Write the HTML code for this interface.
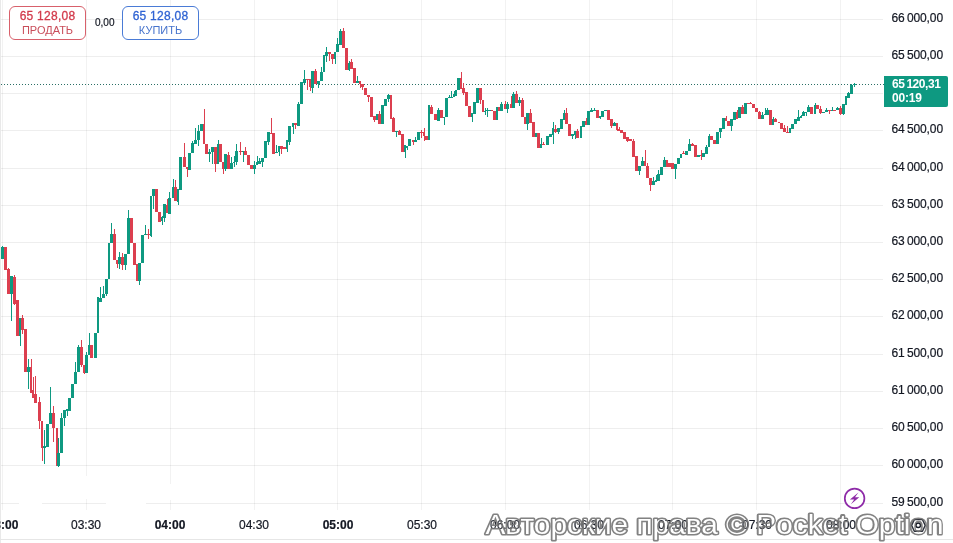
<!DOCTYPE html>
<html><head><meta charset="utf-8">
<style>
html,body{margin:0;padding:0;background:#fff;}
body{width:953px;height:543px;overflow:hidden;position:relative;font-family:"Liberation Sans",sans-serif;}
.pl,.tl,.bv,.bt,.cur,.zz{will-change:transform;}
.pl,.tl,.zz{-webkit-text-stroke:0.2px #131722;}
svg{position:absolute;left:0;top:0;}
.pl{position:absolute;left:885px;width:58px;text-align:right;font-size:12px;line-height:14px;color:#131722;letter-spacing:-0.1px;}
.tl{position:absolute;top:515px;width:60px;text-align:center;font-size:12px;line-height:20px;color:#131722;}
.tl.b{font-weight:bold;}
.btn{position:absolute;top:6px;height:32px;border:1px solid;border-radius:6px;box-sizing:content-box;text-align:center;background:#fff;}
.bv{position:absolute;width:77px;text-align:center;font-size:12px;line-height:14px;letter-spacing:0.25px;-webkit-text-stroke:0.3px currentColor;}
.bt{position:absolute;width:77px;text-align:center;font-size:11px;line-height:14px;}
.cur{position:absolute;left:884px;top:76px;width:64px;height:31px;background:#0e9981;border-radius:0 2px 2px 0;color:#fff;font-weight:bold;font-size:12px;line-height:14px;}
</style></head><body>
<svg width="953" height="543" viewBox="0 0 953 543">
<g shape-rendering="crispEdges">
<rect x="0" y="19" width="883" height="1" fill="rgba(0,0,0,0.065)"/>
<rect x="0" y="56" width="883" height="1" fill="rgba(0,0,0,0.065)"/>
<rect x="0" y="93" width="883" height="1" fill="rgba(0,0,0,0.065)"/>
<rect x="0" y="130" width="883" height="1" fill="rgba(0,0,0,0.065)"/>
<rect x="0" y="168" width="883" height="1" fill="rgba(0,0,0,0.065)"/>
<rect x="0" y="205" width="883" height="1" fill="rgba(0,0,0,0.065)"/>
<rect x="0" y="242" width="883" height="1" fill="rgba(0,0,0,0.065)"/>
<rect x="0" y="279" width="883" height="1" fill="rgba(0,0,0,0.065)"/>
<rect x="0" y="316" width="883" height="1" fill="rgba(0,0,0,0.065)"/>
<rect x="0" y="354" width="883" height="1" fill="rgba(0,0,0,0.065)"/>
<rect x="0" y="391" width="883" height="1" fill="rgba(0,0,0,0.065)"/>
<rect x="0" y="428" width="883" height="1" fill="rgba(0,0,0,0.065)"/>
<rect x="0" y="465" width="883" height="1" fill="rgba(0,0,0,0.065)"/>
<rect x="0" y="503" width="883" height="1" fill="rgba(0,0,0,0.065)"/>
<rect x="2" y="0" width="1" height="510" fill="rgba(0,0,0,0.05)"/>
<rect x="86" y="0" width="1" height="510" fill="rgba(0,0,0,0.05)"/>
<rect x="170" y="0" width="1" height="510" fill="rgba(0,0,0,0.05)"/>
<rect x="254" y="0" width="1" height="510" fill="rgba(0,0,0,0.05)"/>
<rect x="337" y="0" width="1" height="510" fill="rgba(0,0,0,0.05)"/>
<rect x="421" y="0" width="1" height="510" fill="rgba(0,0,0,0.05)"/>
<rect x="505" y="0" width="1" height="510" fill="rgba(0,0,0,0.05)"/>
<rect x="589" y="0" width="1" height="510" fill="rgba(0,0,0,0.05)"/>
<rect x="672" y="0" width="1" height="510" fill="rgba(0,0,0,0.05)"/>
<rect x="756" y="0" width="1" height="510" fill="rgba(0,0,0,0.05)"/>
<rect x="840" y="0" width="1" height="510" fill="rgba(0,0,0,0.05)"/>
<rect x="0" y="0" width="1" height="543" fill="#e9e9e9"/>
</g>
<g fill="#fff"><rect x="19" y="501" width="23" height="4"/><rect x="106" y="501" width="40" height="4"/><rect x="84" y="476" width="5" height="23"/><rect x="168" y="484" width="5" height="16"/></g>
<line x1="0" y1="539.5" x2="953" y2="539.5" stroke="#e6e6e6" stroke-width="1"/>
<line x1="1" y1="84.5" x2="884" y2="84.5" stroke="#2b6f66" stroke-width="1" stroke-dasharray="1 2" shape-rendering="crispEdges"/>
<g shape-rendering="crispEdges">
<rect x="2" y="246" width="1" height="13" fill="#0e9981"/>
<rect x="1" y="247" width="3" height="12" fill="#0e9981"/>
<rect x="5" y="247" width="1" height="23" fill="#dc3f4f"/>
<rect x="4" y="247" width="3" height="23" fill="#dc3f4f"/>
<rect x="8" y="268" width="1" height="26" fill="#dc3f4f"/>
<rect x="7" y="269" width="3" height="25" fill="#dc3f4f"/>
<rect x="11" y="276" width="1" height="45" fill="#0e9981"/>
<rect x="10" y="276" width="3" height="18" fill="#0e9981"/>
<rect x="14" y="275" width="1" height="30" fill="#dc3f4f"/>
<rect x="13" y="277" width="3" height="27" fill="#dc3f4f"/>
<rect x="17" y="300" width="1" height="36" fill="#dc3f4f"/>
<rect x="16" y="300" width="3" height="36" fill="#dc3f4f"/>
<rect x="20" y="318" width="1" height="28" fill="#0e9981"/>
<rect x="19" y="318" width="2" height="18" fill="#0e9981"/>
<rect x="22" y="315" width="1" height="19" fill="#dc3f4f"/>
<rect x="21" y="318" width="3" height="12" fill="#dc3f4f"/>
<rect x="25" y="329" width="1" height="43" fill="#dc3f4f"/>
<rect x="24" y="329" width="3" height="43" fill="#dc3f4f"/>
<rect x="28" y="359" width="1" height="30" fill="#0e9981"/>
<rect x="27" y="367" width="3" height="5" fill="#0e9981"/>
<rect x="31" y="359" width="1" height="34" fill="#dc3f4f"/>
<rect x="30" y="367" width="2" height="26" fill="#dc3f4f"/>
<rect x="33" y="377" width="1" height="21" fill="#dc3f4f"/>
<rect x="32" y="390" width="2" height="8" fill="#dc3f4f"/>
<rect x="35" y="376" width="1" height="27" fill="#dc3f4f"/>
<rect x="34" y="394" width="3" height="9" fill="#dc3f4f"/>
<rect x="39" y="397" width="1" height="32" fill="#dc3f4f"/>
<rect x="38" y="402" width="3" height="19" fill="#dc3f4f"/>
<rect x="42" y="421" width="1" height="40" fill="#dc3f4f"/>
<rect x="41" y="421" width="2" height="27" fill="#dc3f4f"/>
<rect x="44" y="430" width="1" height="34" fill="#0e9981"/>
<rect x="43" y="446" width="3" height="2" fill="#0e9981"/>
<rect x="47" y="424" width="1" height="23" fill="#0e9981"/>
<rect x="46" y="424" width="3" height="23" fill="#0e9981"/>
<rect x="50" y="387" width="1" height="37" fill="#0e9981"/>
<rect x="49" y="413" width="3" height="11" fill="#0e9981"/>
<rect x="53" y="406" width="1" height="36" fill="#dc3f4f"/>
<rect x="52" y="413" width="3" height="15" fill="#dc3f4f"/>
<rect x="57" y="428" width="1" height="38" fill="#dc3f4f"/>
<rect x="56" y="428" width="2" height="38" fill="#dc3f4f"/>
<rect x="58" y="438" width="1" height="29" fill="#0e9981"/>
<rect x="57" y="453" width="3" height="13" fill="#0e9981"/>
<rect x="61" y="413" width="1" height="40" fill="#0e9981"/>
<rect x="60" y="418" width="3" height="35" fill="#0e9981"/>
<rect x="64" y="410" width="1" height="16" fill="#0e9981"/>
<rect x="63" y="410" width="3" height="8" fill="#0e9981"/>
<rect x="67" y="409" width="1" height="7" fill="#0e9981"/>
<rect x="66" y="409" width="2" height="2" fill="#0e9981"/>
<rect x="69" y="398" width="1" height="13" fill="#0e9981"/>
<rect x="68" y="398" width="3" height="13" fill="#0e9981"/>
<rect x="72" y="384" width="1" height="14" fill="#0e9981"/>
<rect x="71" y="384" width="3" height="14" fill="#0e9981"/>
<rect x="75" y="362" width="1" height="22" fill="#0e9981"/>
<rect x="74" y="372" width="3" height="12" fill="#0e9981"/>
<rect x="78" y="345" width="1" height="27" fill="#0e9981"/>
<rect x="77" y="347" width="3" height="25" fill="#0e9981"/>
<rect x="81" y="340" width="1" height="27" fill="#dc3f4f"/>
<rect x="80" y="347" width="3" height="18" fill="#dc3f4f"/>
<rect x="84" y="365" width="1" height="9" fill="#dc3f4f"/>
<rect x="83" y="365" width="2" height="8" fill="#dc3f4f"/>
<rect x="86" y="352" width="1" height="21" fill="#0e9981"/>
<rect x="85" y="355" width="3" height="18" fill="#0e9981"/>
<rect x="89" y="333" width="1" height="22" fill="#0e9981"/>
<rect x="88" y="345" width="2" height="10" fill="#0e9981"/>
<rect x="91" y="345" width="1" height="13" fill="#dc3f4f"/>
<rect x="90" y="345" width="3" height="13" fill="#dc3f4f"/>
<rect x="95" y="333" width="1" height="25" fill="#0e9981"/>
<rect x="94" y="333" width="3" height="25" fill="#0e9981"/>
<rect x="98" y="297" width="1" height="36" fill="#0e9981"/>
<rect x="97" y="297" width="2" height="36" fill="#0e9981"/>
<rect x="100" y="287" width="1" height="15" fill="#0e9981"/>
<rect x="99" y="298" width="3" height="4" fill="#0e9981"/>
<rect x="103" y="286" width="1" height="12" fill="#0e9981"/>
<rect x="102" y="294" width="3" height="4" fill="#0e9981"/>
<rect x="106" y="279" width="1" height="17" fill="#0e9981"/>
<rect x="105" y="279" width="3" height="15" fill="#0e9981"/>
<rect x="109" y="243" width="1" height="36" fill="#0e9981"/>
<rect x="108" y="243" width="2" height="36" fill="#0e9981"/>
<rect x="111" y="223" width="1" height="20" fill="#0e9981"/>
<rect x="110" y="234" width="3" height="9" fill="#0e9981"/>
<rect x="114" y="229" width="1" height="31" fill="#dc3f4f"/>
<rect x="113" y="234" width="3" height="26" fill="#dc3f4f"/>
<rect x="117" y="260" width="1" height="8" fill="#dc3f4f"/>
<rect x="116" y="260" width="2" height="4" fill="#dc3f4f"/>
<rect x="119" y="252" width="1" height="17" fill="#0e9981"/>
<rect x="118" y="257" width="3" height="7" fill="#0e9981"/>
<rect x="122" y="253" width="1" height="17" fill="#dc3f4f"/>
<rect x="121" y="257" width="3" height="8" fill="#dc3f4f"/>
<rect x="125" y="254" width="1" height="16" fill="#0e9981"/>
<rect x="124" y="254" width="3" height="11" fill="#0e9981"/>
<rect x="128" y="210" width="1" height="44" fill="#0e9981"/>
<rect x="127" y="218" width="3" height="36" fill="#0e9981"/>
<rect x="131" y="218" width="1" height="25" fill="#dc3f4f"/>
<rect x="130" y="218" width="3" height="25" fill="#dc3f4f"/>
<rect x="134" y="243" width="1" height="22" fill="#dc3f4f"/>
<rect x="133" y="243" width="3" height="22" fill="#dc3f4f"/>
<rect x="137" y="264" width="1" height="17" fill="#dc3f4f"/>
<rect x="136" y="264" width="2" height="17" fill="#dc3f4f"/>
<rect x="139" y="263" width="1" height="22" fill="#0e9981"/>
<rect x="138" y="263" width="3" height="18" fill="#0e9981"/>
<rect x="142" y="235" width="1" height="28" fill="#0e9981"/>
<rect x="141" y="235" width="3" height="28" fill="#0e9981"/>
<rect x="145" y="225" width="1" height="10" fill="#0e9981"/>
<rect x="144" y="234" width="3" height="1" fill="#0e9981"/>
<rect x="148" y="229" width="1" height="10" fill="#dc3f4f"/>
<rect x="147" y="234" width="3" height="1" fill="#dc3f4f"/>
<rect x="151" y="196" width="1" height="41" fill="#0e9981"/>
<rect x="150" y="196" width="2" height="40" fill="#0e9981"/>
<rect x="153" y="189" width="1" height="20" fill="#0e9981"/>
<rect x="152" y="189" width="3" height="7" fill="#0e9981"/>
<rect x="156" y="189" width="1" height="23" fill="#dc3f4f"/>
<rect x="155" y="189" width="3" height="23" fill="#dc3f4f"/>
<rect x="159" y="212" width="1" height="10" fill="#dc3f4f"/>
<rect x="158" y="212" width="3" height="10" fill="#dc3f4f"/>
<rect x="162" y="216" width="1" height="9" fill="#0e9981"/>
<rect x="161" y="217" width="2" height="4" fill="#0e9981"/>
<rect x="164" y="204" width="1" height="18" fill="#0e9981"/>
<rect x="163" y="204" width="3" height="14" fill="#0e9981"/>
<rect x="167" y="199" width="1" height="14" fill="#dc3f4f"/>
<rect x="166" y="205" width="2" height="8" fill="#dc3f4f"/>
<rect x="169" y="192" width="1" height="22" fill="#0e9981"/>
<rect x="168" y="198" width="3" height="16" fill="#0e9981"/>
<rect x="173" y="179" width="1" height="19" fill="#0e9981"/>
<rect x="172" y="187" width="2" height="11" fill="#0e9981"/>
<rect x="175" y="180" width="1" height="21" fill="#dc3f4f"/>
<rect x="174" y="187" width="3" height="14" fill="#dc3f4f"/>
<rect x="178" y="189" width="1" height="16" fill="#0e9981"/>
<rect x="177" y="189" width="2" height="13" fill="#0e9981"/>
<rect x="180" y="157" width="1" height="33" fill="#0e9981"/>
<rect x="179" y="157" width="3" height="33" fill="#0e9981"/>
<rect x="184" y="143" width="1" height="24" fill="#dc3f4f"/>
<rect x="183" y="157" width="3" height="10" fill="#dc3f4f"/>
<rect x="187" y="167" width="1" height="10" fill="#dc3f4f"/>
<rect x="186" y="167" width="2" height="2" fill="#dc3f4f"/>
<rect x="189" y="153" width="1" height="17" fill="#0e9981"/>
<rect x="188" y="153" width="3" height="17" fill="#0e9981"/>
<rect x="192" y="141" width="1" height="12" fill="#0e9981"/>
<rect x="191" y="143" width="3" height="10" fill="#0e9981"/>
<rect x="195" y="128" width="1" height="16" fill="#0e9981"/>
<rect x="194" y="140" width="3" height="4" fill="#0e9981"/>
<rect x="198" y="125" width="1" height="21" fill="#0e9981"/>
<rect x="197" y="131" width="3" height="9" fill="#0e9981"/>
<rect x="201" y="124" width="1" height="7" fill="#0e9981"/>
<rect x="200" y="124" width="3" height="7" fill="#0e9981"/>
<rect x="204" y="109" width="1" height="35" fill="#dc3f4f"/>
<rect x="203" y="124" width="2" height="20" fill="#dc3f4f"/>
<rect x="206" y="144" width="1" height="10" fill="#dc3f4f"/>
<rect x="205" y="144" width="3" height="10" fill="#dc3f4f"/>
<rect x="209" y="149" width="1" height="13" fill="#0e9981"/>
<rect x="208" y="152" width="3" height="2" fill="#0e9981"/>
<rect x="212" y="147" width="1" height="17" fill="#0e9981"/>
<rect x="211" y="147" width="3" height="5" fill="#0e9981"/>
<rect x="215" y="147" width="1" height="25" fill="#dc3f4f"/>
<rect x="214" y="147" width="3" height="17" fill="#dc3f4f"/>
<rect x="218" y="140" width="1" height="24" fill="#0e9981"/>
<rect x="217" y="144" width="2" height="20" fill="#0e9981"/>
<rect x="220" y="144" width="1" height="18" fill="#dc3f4f"/>
<rect x="219" y="144" width="3" height="18" fill="#dc3f4f"/>
<rect x="223" y="162" width="1" height="12" fill="#dc3f4f"/>
<rect x="222" y="162" width="2" height="7" fill="#dc3f4f"/>
<rect x="225" y="154" width="1" height="17" fill="#0e9981"/>
<rect x="224" y="154" width="3" height="15" fill="#0e9981"/>
<rect x="228" y="152" width="1" height="17" fill="#dc3f4f"/>
<rect x="227" y="155" width="3" height="14" fill="#dc3f4f"/>
<rect x="231" y="157" width="1" height="12" fill="#0e9981"/>
<rect x="230" y="163" width="3" height="6" fill="#0e9981"/>
<rect x="234" y="156" width="1" height="11" fill="#0e9981"/>
<rect x="233" y="162" width="2" height="1" fill="#0e9981"/>
<rect x="236" y="144" width="1" height="21" fill="#0e9981"/>
<rect x="235" y="151" width="3" height="11" fill="#0e9981"/>
<rect x="240" y="142" width="1" height="13" fill="#dc3f4f"/>
<rect x="239" y="151" width="3" height="1" fill="#dc3f4f"/>
<rect x="243" y="151" width="1" height="11" fill="#0e9981"/>
<rect x="242" y="151" width="2" height="1" fill="#0e9981"/>
<rect x="245" y="147" width="1" height="8" fill="#dc3f4f"/>
<rect x="244" y="151" width="3" height="4" fill="#dc3f4f"/>
<rect x="248" y="155" width="1" height="10" fill="#dc3f4f"/>
<rect x="247" y="155" width="3" height="10" fill="#dc3f4f"/>
<rect x="251" y="165" width="1" height="4" fill="#dc3f4f"/>
<rect x="250" y="165" width="3" height="4" fill="#dc3f4f"/>
<rect x="254" y="161" width="1" height="13" fill="#0e9981"/>
<rect x="253" y="165" width="3" height="4" fill="#0e9981"/>
<rect x="257" y="156" width="1" height="9" fill="#0e9981"/>
<rect x="256" y="162" width="2" height="3" fill="#0e9981"/>
<rect x="259" y="158" width="1" height="6" fill="#0e9981"/>
<rect x="258" y="161" width="3" height="3" fill="#0e9981"/>
<rect x="262" y="158" width="1" height="9" fill="#0e9981"/>
<rect x="261" y="158" width="3" height="4" fill="#0e9981"/>
<rect x="265" y="141" width="1" height="17" fill="#0e9981"/>
<rect x="264" y="141" width="3" height="17" fill="#0e9981"/>
<rect x="268" y="132" width="1" height="13" fill="#0e9981"/>
<rect x="267" y="132" width="3" height="10" fill="#0e9981"/>
<rect x="271" y="118" width="1" height="15" fill="#dc3f4f"/>
<rect x="270" y="133" width="2" height="1" fill="#dc3f4f"/>
<rect x="273" y="133" width="1" height="21" fill="#dc3f4f"/>
<rect x="272" y="133" width="3" height="21" fill="#dc3f4f"/>
<rect x="276" y="145" width="1" height="8" fill="#0e9981"/>
<rect x="275" y="152" width="3" height="1" fill="#0e9981"/>
<rect x="279" y="146" width="1" height="10" fill="#0e9981"/>
<rect x="278" y="146" width="2" height="6" fill="#0e9981"/>
<rect x="281" y="146" width="1" height="8" fill="#dc3f4f"/>
<rect x="280" y="146" width="3" height="3" fill="#dc3f4f"/>
<rect x="284" y="147" width="1" height="2" fill="#dc3f4f"/>
<rect x="283" y="147" width="3" height="2" fill="#dc3f4f"/>
<rect x="287" y="140" width="1" height="12" fill="#0e9981"/>
<rect x="286" y="140" width="2" height="9" fill="#0e9981"/>
<rect x="289" y="126" width="1" height="19" fill="#0e9981"/>
<rect x="288" y="126" width="3" height="16" fill="#0e9981"/>
<rect x="293" y="123" width="1" height="11" fill="#0e9981"/>
<rect x="292" y="123" width="2" height="4" fill="#0e9981"/>
<rect x="295" y="123" width="1" height="6" fill="#dc3f4f"/>
<rect x="294" y="123" width="3" height="2" fill="#dc3f4f"/>
<rect x="298" y="102" width="1" height="24" fill="#0e9981"/>
<rect x="297" y="104" width="3" height="22" fill="#0e9981"/>
<rect x="301" y="82" width="1" height="22" fill="#0e9981"/>
<rect x="300" y="82" width="3" height="22" fill="#0e9981"/>
<rect x="304" y="70" width="1" height="14" fill="#0e9981"/>
<rect x="303" y="79" width="3" height="4" fill="#0e9981"/>
<rect x="307" y="79" width="1" height="11" fill="#dc3f4f"/>
<rect x="306" y="79" width="3" height="1" fill="#dc3f4f"/>
<rect x="310" y="79" width="1" height="12" fill="#dc3f4f"/>
<rect x="309" y="79" width="2" height="8" fill="#dc3f4f"/>
<rect x="312" y="71" width="1" height="22" fill="#0e9981"/>
<rect x="311" y="71" width="3" height="17" fill="#0e9981"/>
<rect x="315" y="69" width="1" height="15" fill="#dc3f4f"/>
<rect x="314" y="71" width="3" height="13" fill="#dc3f4f"/>
<rect x="318" y="81" width="1" height="7" fill="#0e9981"/>
<rect x="317" y="81" width="3" height="3" fill="#0e9981"/>
<rect x="321" y="67" width="1" height="14" fill="#0e9981"/>
<rect x="320" y="72" width="3" height="9" fill="#0e9981"/>
<rect x="324" y="55" width="1" height="17" fill="#0e9981"/>
<rect x="323" y="55" width="2" height="17" fill="#0e9981"/>
<rect x="326" y="47" width="1" height="15" fill="#0e9981"/>
<rect x="325" y="52" width="3" height="4" fill="#0e9981"/>
<rect x="329" y="52" width="1" height="9" fill="#dc3f4f"/>
<rect x="328" y="52" width="3" height="2" fill="#dc3f4f"/>
<rect x="332" y="54" width="1" height="10" fill="#dc3f4f"/>
<rect x="331" y="54" width="3" height="5" fill="#dc3f4f"/>
<rect x="335" y="52" width="1" height="12" fill="#0e9981"/>
<rect x="334" y="52" width="2" height="7" fill="#0e9981"/>
<rect x="337" y="38" width="1" height="14" fill="#0e9981"/>
<rect x="336" y="44" width="3" height="8" fill="#0e9981"/>
<rect x="340" y="29" width="1" height="16" fill="#0e9981"/>
<rect x="339" y="31" width="3" height="14" fill="#0e9981"/>
<rect x="343" y="28" width="1" height="20" fill="#dc3f4f"/>
<rect x="342" y="31" width="3" height="17" fill="#dc3f4f"/>
<rect x="346" y="48" width="1" height="22" fill="#dc3f4f"/>
<rect x="345" y="48" width="3" height="22" fill="#dc3f4f"/>
<rect x="349" y="61" width="1" height="10" fill="#0e9981"/>
<rect x="348" y="63" width="2" height="7" fill="#0e9981"/>
<rect x="351" y="59" width="1" height="10" fill="#dc3f4f"/>
<rect x="350" y="62" width="3" height="7" fill="#dc3f4f"/>
<rect x="354" y="68" width="1" height="15" fill="#dc3f4f"/>
<rect x="353" y="68" width="3" height="15" fill="#dc3f4f"/>
<rect x="357" y="76" width="1" height="7" fill="#0e9981"/>
<rect x="356" y="81" width="3" height="2" fill="#0e9981"/>
<rect x="360" y="81" width="1" height="7" fill="#dc3f4f"/>
<rect x="359" y="81" width="2" height="3" fill="#dc3f4f"/>
<rect x="362" y="84" width="1" height="6" fill="#dc3f4f"/>
<rect x="361" y="84" width="3" height="3" fill="#dc3f4f"/>
<rect x="365" y="88" width="1" height="7" fill="#dc3f4f"/>
<rect x="364" y="88" width="3" height="7" fill="#dc3f4f"/>
<rect x="368" y="95" width="1" height="7" fill="#dc3f4f"/>
<rect x="367" y="95" width="3" height="2" fill="#dc3f4f"/>
<rect x="371" y="97" width="1" height="20" fill="#dc3f4f"/>
<rect x="370" y="97" width="3" height="20" fill="#dc3f4f"/>
<rect x="374" y="116" width="1" height="6" fill="#dc3f4f"/>
<rect x="373" y="116" width="3" height="4" fill="#dc3f4f"/>
<rect x="377" y="114" width="1" height="6" fill="#0e9981"/>
<rect x="376" y="114" width="2" height="6" fill="#0e9981"/>
<rect x="379" y="111" width="1" height="13" fill="#dc3f4f"/>
<rect x="378" y="114" width="3" height="10" fill="#dc3f4f"/>
<rect x="382" y="105" width="1" height="19" fill="#0e9981"/>
<rect x="381" y="105" width="3" height="19" fill="#0e9981"/>
<rect x="385" y="99" width="1" height="7" fill="#0e9981"/>
<rect x="384" y="99" width="3" height="7" fill="#0e9981"/>
<rect x="388" y="94" width="1" height="8" fill="#0e9981"/>
<rect x="387" y="95" width="3" height="4" fill="#0e9981"/>
<rect x="391" y="95" width="1" height="24" fill="#dc3f4f"/>
<rect x="390" y="95" width="2" height="24" fill="#dc3f4f"/>
<rect x="393" y="117" width="1" height="15" fill="#dc3f4f"/>
<rect x="392" y="118" width="3" height="14" fill="#dc3f4f"/>
<rect x="396" y="131" width="1" height="6" fill="#0e9981"/>
<rect x="395" y="131" width="3" height="1" fill="#0e9981"/>
<rect x="399" y="130" width="1" height="5" fill="#dc3f4f"/>
<rect x="398" y="131" width="3" height="4" fill="#dc3f4f"/>
<rect x="402" y="134" width="1" height="18" fill="#dc3f4f"/>
<rect x="401" y="134" width="3" height="18" fill="#dc3f4f"/>
<rect x="405" y="145" width="1" height="13" fill="#0e9981"/>
<rect x="404" y="145" width="2" height="7" fill="#0e9981"/>
<rect x="407" y="146" width="1" height="4" fill="#0e9981"/>
<rect x="406" y="146" width="2" height="2" fill="#0e9981"/>
<rect x="409" y="139" width="1" height="7" fill="#0e9981"/>
<rect x="408" y="139" width="3" height="7" fill="#0e9981"/>
<rect x="413" y="140" width="1" height="5" fill="#dc3f4f"/>
<rect x="412" y="140" width="2" height="2" fill="#dc3f4f"/>
<rect x="415" y="137" width="1" height="5" fill="#0e9981"/>
<rect x="414" y="140" width="3" height="2" fill="#0e9981"/>
<rect x="418" y="132" width="1" height="8" fill="#0e9981"/>
<rect x="417" y="132" width="3" height="8" fill="#0e9981"/>
<rect x="421" y="130" width="1" height="8" fill="#dc3f4f"/>
<rect x="420" y="132" width="3" height="1" fill="#dc3f4f"/>
<rect x="424" y="128" width="1" height="13" fill="#dc3f4f"/>
<rect x="423" y="132" width="2" height="4" fill="#dc3f4f"/>
<rect x="426" y="136" width="1" height="4" fill="#dc3f4f"/>
<rect x="425" y="136" width="3" height="4" fill="#dc3f4f"/>
<rect x="429" y="105" width="1" height="35" fill="#0e9981"/>
<rect x="428" y="105" width="2" height="35" fill="#0e9981"/>
<rect x="431" y="105" width="1" height="9" fill="#dc3f4f"/>
<rect x="430" y="107" width="3" height="7" fill="#dc3f4f"/>
<rect x="435" y="114" width="1" height="6" fill="#dc3f4f"/>
<rect x="434" y="114" width="3" height="6" fill="#dc3f4f"/>
<rect x="438" y="108" width="1" height="13" fill="#0e9981"/>
<rect x="437" y="110" width="3" height="11" fill="#0e9981"/>
<rect x="441" y="110" width="1" height="8" fill="#dc3f4f"/>
<rect x="440" y="110" width="3" height="8" fill="#dc3f4f"/>
<rect x="444" y="117" width="1" height="8" fill="#0e9981"/>
<rect x="443" y="117" width="2" height="1" fill="#0e9981"/>
<rect x="446" y="98" width="1" height="19" fill="#0e9981"/>
<rect x="445" y="98" width="3" height="19" fill="#0e9981"/>
<rect x="449" y="95" width="1" height="3" fill="#0e9981"/>
<rect x="448" y="97" width="2" height="1" fill="#0e9981"/>
<rect x="451" y="91" width="1" height="7" fill="#0e9981"/>
<rect x="450" y="97" width="3" height="1" fill="#0e9981"/>
<rect x="454" y="91" width="1" height="6" fill="#0e9981"/>
<rect x="453" y="94" width="2" height="3" fill="#0e9981"/>
<rect x="456" y="90" width="1" height="6" fill="#0e9981"/>
<rect x="455" y="90" width="2" height="6" fill="#0e9981"/>
<rect x="458" y="78" width="1" height="12" fill="#0e9981"/>
<rect x="457" y="78" width="3" height="12" fill="#0e9981"/>
<rect x="461" y="72" width="1" height="17" fill="#dc3f4f"/>
<rect x="460" y="78" width="2" height="11" fill="#dc3f4f"/>
<rect x="463" y="83" width="1" height="12" fill="#dc3f4f"/>
<rect x="462" y="88" width="3" height="5" fill="#dc3f4f"/>
<rect x="466" y="92" width="1" height="14" fill="#dc3f4f"/>
<rect x="465" y="92" width="3" height="14" fill="#dc3f4f"/>
<rect x="469" y="106" width="1" height="11" fill="#dc3f4f"/>
<rect x="468" y="106" width="3" height="11" fill="#dc3f4f"/>
<rect x="472" y="113" width="1" height="9" fill="#0e9981"/>
<rect x="471" y="113" width="2" height="4" fill="#0e9981"/>
<rect x="474" y="102" width="1" height="12" fill="#0e9981"/>
<rect x="473" y="102" width="3" height="12" fill="#0e9981"/>
<rect x="477" y="88" width="1" height="15" fill="#0e9981"/>
<rect x="476" y="88" width="3" height="15" fill="#0e9981"/>
<rect x="480" y="88" width="1" height="16" fill="#dc3f4f"/>
<rect x="479" y="88" width="3" height="12" fill="#dc3f4f"/>
<rect x="483" y="100" width="1" height="12" fill="#dc3f4f"/>
<rect x="482" y="100" width="2" height="12" fill="#dc3f4f"/>
<rect x="485" y="108" width="1" height="7" fill="#0e9981"/>
<rect x="484" y="111" width="2" height="1" fill="#0e9981"/>
<rect x="487" y="108" width="1" height="9" fill="#0e9981"/>
<rect x="486" y="110" width="3" height="1" fill="#0e9981"/>
<rect x="490" y="110" width="1" height="1" fill="#0e9981"/>
<rect x="489" y="110" width="2" height="1" fill="#0e9981"/>
<rect x="492" y="110" width="1" height="1" fill="#dc3f4f"/>
<rect x="491" y="110" width="2" height="1" fill="#dc3f4f"/>
<rect x="494" y="111" width="1" height="9" fill="#dc3f4f"/>
<rect x="493" y="111" width="3" height="9" fill="#dc3f4f"/>
<rect x="497" y="107" width="1" height="13" fill="#0e9981"/>
<rect x="496" y="107" width="2" height="13" fill="#0e9981"/>
<rect x="499" y="107" width="1" height="4" fill="#dc3f4f"/>
<rect x="498" y="107" width="2" height="4" fill="#dc3f4f"/>
<rect x="501" y="102" width="1" height="9" fill="#0e9981"/>
<rect x="500" y="104" width="3" height="7" fill="#0e9981"/>
<rect x="505" y="101" width="1" height="8" fill="#dc3f4f"/>
<rect x="504" y="104" width="2" height="5" fill="#dc3f4f"/>
<rect x="507" y="102" width="1" height="11" fill="#0e9981"/>
<rect x="506" y="104" width="3" height="5" fill="#0e9981"/>
<rect x="511" y="96" width="1" height="12" fill="#dc3f4f"/>
<rect x="510" y="104" width="2" height="4" fill="#dc3f4f"/>
<rect x="513" y="92" width="1" height="16" fill="#0e9981"/>
<rect x="512" y="94" width="3" height="14" fill="#0e9981"/>
<rect x="516" y="91" width="1" height="12" fill="#dc3f4f"/>
<rect x="515" y="94" width="3" height="9" fill="#dc3f4f"/>
<rect x="519" y="97" width="1" height="9" fill="#0e9981"/>
<rect x="518" y="100" width="3" height="3" fill="#0e9981"/>
<rect x="522" y="98" width="1" height="19" fill="#dc3f4f"/>
<rect x="521" y="100" width="3" height="17" fill="#dc3f4f"/>
<rect x="525" y="117" width="1" height="7" fill="#dc3f4f"/>
<rect x="524" y="117" width="2" height="7" fill="#dc3f4f"/>
<rect x="527" y="113" width="1" height="17" fill="#0e9981"/>
<rect x="526" y="113" width="3" height="11" fill="#0e9981"/>
<rect x="530" y="109" width="1" height="14" fill="#dc3f4f"/>
<rect x="529" y="113" width="3" height="10" fill="#dc3f4f"/>
<rect x="533" y="122" width="1" height="15" fill="#dc3f4f"/>
<rect x="532" y="122" width="3" height="15" fill="#dc3f4f"/>
<rect x="536" y="133" width="1" height="4" fill="#0e9981"/>
<rect x="535" y="133" width="2" height="4" fill="#0e9981"/>
<rect x="538" y="133" width="1" height="15" fill="#dc3f4f"/>
<rect x="537" y="133" width="3" height="15" fill="#dc3f4f"/>
<rect x="541" y="138" width="1" height="10" fill="#0e9981"/>
<rect x="540" y="144" width="2" height="4" fill="#0e9981"/>
<rect x="543" y="142" width="1" height="3" fill="#dc3f4f"/>
<rect x="542" y="144" width="3" height="1" fill="#dc3f4f"/>
<rect x="547" y="136" width="1" height="9" fill="#0e9981"/>
<rect x="546" y="136" width="3" height="9" fill="#0e9981"/>
<rect x="550" y="134" width="1" height="3" fill="#0e9981"/>
<rect x="549" y="134" width="3" height="3" fill="#0e9981"/>
<rect x="553" y="122" width="1" height="22" fill="#0e9981"/>
<rect x="552" y="128" width="2" height="7" fill="#0e9981"/>
<rect x="555" y="125" width="1" height="8" fill="#dc3f4f"/>
<rect x="554" y="129" width="3" height="3" fill="#dc3f4f"/>
<rect x="558" y="128" width="1" height="6" fill="#0e9981"/>
<rect x="557" y="128" width="3" height="4" fill="#0e9981"/>
<rect x="561" y="119" width="1" height="10" fill="#0e9981"/>
<rect x="560" y="119" width="3" height="10" fill="#0e9981"/>
<rect x="564" y="110" width="1" height="10" fill="#0e9981"/>
<rect x="563" y="113" width="2" height="7" fill="#0e9981"/>
<rect x="566" y="108" width="1" height="16" fill="#dc3f4f"/>
<rect x="565" y="113" width="3" height="11" fill="#dc3f4f"/>
<rect x="569" y="124" width="1" height="12" fill="#dc3f4f"/>
<rect x="568" y="124" width="3" height="12" fill="#dc3f4f"/>
<rect x="572" y="134" width="1" height="5" fill="#0e9981"/>
<rect x="571" y="134" width="3" height="2" fill="#0e9981"/>
<rect x="575" y="131" width="1" height="8" fill="#0e9981"/>
<rect x="574" y="131" width="2" height="4" fill="#0e9981"/>
<rect x="577" y="129" width="1" height="9" fill="#dc3f4f"/>
<rect x="576" y="131" width="3" height="7" fill="#dc3f4f"/>
<rect x="581" y="126" width="1" height="12" fill="#0e9981"/>
<rect x="580" y="126" width="2" height="12" fill="#0e9981"/>
<rect x="583" y="121" width="1" height="6" fill="#0e9981"/>
<rect x="582" y="121" width="3" height="6" fill="#0e9981"/>
<rect x="586" y="118" width="1" height="7" fill="#dc3f4f"/>
<rect x="585" y="121" width="2" height="4" fill="#dc3f4f"/>
<rect x="588" y="111" width="1" height="14" fill="#0e9981"/>
<rect x="587" y="111" width="3" height="14" fill="#0e9981"/>
<rect x="591" y="108" width="1" height="4" fill="#0e9981"/>
<rect x="590" y="110" width="3" height="2" fill="#0e9981"/>
<rect x="594" y="108" width="1" height="3" fill="#0e9981"/>
<rect x="593" y="110" width="3" height="1" fill="#0e9981"/>
<rect x="597" y="110" width="1" height="8" fill="#dc3f4f"/>
<rect x="596" y="110" width="3" height="8" fill="#dc3f4f"/>
<rect x="600" y="116" width="1" height="3" fill="#0e9981"/>
<rect x="599" y="116" width="2" height="2" fill="#0e9981"/>
<rect x="602" y="111" width="1" height="6" fill="#0e9981"/>
<rect x="601" y="111" width="3" height="6" fill="#0e9981"/>
<rect x="605" y="110" width="1" height="1" fill="#0e9981"/>
<rect x="604" y="110" width="3" height="1" fill="#0e9981"/>
<rect x="608" y="110" width="1" height="10" fill="#dc3f4f"/>
<rect x="607" y="110" width="3" height="10" fill="#dc3f4f"/>
<rect x="611" y="119" width="1" height="9" fill="#dc3f4f"/>
<rect x="610" y="119" width="3" height="7" fill="#dc3f4f"/>
<rect x="614" y="122" width="1" height="4" fill="#0e9981"/>
<rect x="613" y="123" width="3" height="3" fill="#0e9981"/>
<rect x="617" y="123" width="1" height="8" fill="#dc3f4f"/>
<rect x="616" y="123" width="2" height="7" fill="#dc3f4f"/>
<rect x="619" y="127" width="1" height="4" fill="#dc3f4f"/>
<rect x="618" y="129" width="2" height="2" fill="#dc3f4f"/>
<rect x="621" y="130" width="1" height="3" fill="#dc3f4f"/>
<rect x="620" y="130" width="3" height="3" fill="#dc3f4f"/>
<rect x="624" y="132" width="1" height="7" fill="#dc3f4f"/>
<rect x="623" y="132" width="3" height="7" fill="#dc3f4f"/>
<rect x="627" y="137" width="1" height="5" fill="#dc3f4f"/>
<rect x="626" y="137" width="3" height="4" fill="#dc3f4f"/>
<rect x="630" y="139" width="1" height="2" fill="#dc3f4f"/>
<rect x="629" y="139" width="3" height="2" fill="#dc3f4f"/>
<rect x="633" y="139" width="1" height="18" fill="#dc3f4f"/>
<rect x="632" y="141" width="3" height="16" fill="#dc3f4f"/>
<rect x="636" y="156" width="1" height="15" fill="#dc3f4f"/>
<rect x="635" y="156" width="3" height="15" fill="#dc3f4f"/>
<rect x="639" y="166" width="1" height="9" fill="#0e9981"/>
<rect x="638" y="166" width="3" height="5" fill="#0e9981"/>
<rect x="642" y="157" width="1" height="9" fill="#0e9981"/>
<rect x="641" y="161" width="3" height="5" fill="#0e9981"/>
<rect x="645" y="150" width="1" height="16" fill="#dc3f4f"/>
<rect x="644" y="161" width="2" height="5" fill="#dc3f4f"/>
<rect x="647" y="163" width="1" height="15" fill="#dc3f4f"/>
<rect x="646" y="166" width="3" height="12" fill="#dc3f4f"/>
<rect x="650" y="178" width="1" height="13" fill="#dc3f4f"/>
<rect x="649" y="178" width="3" height="7" fill="#dc3f4f"/>
<rect x="653" y="177" width="1" height="8" fill="#0e9981"/>
<rect x="652" y="181" width="3" height="4" fill="#0e9981"/>
<rect x="656" y="175" width="1" height="7" fill="#0e9981"/>
<rect x="655" y="180" width="2" height="2" fill="#0e9981"/>
<rect x="658" y="170" width="1" height="11" fill="#0e9981"/>
<rect x="657" y="174" width="3" height="7" fill="#0e9981"/>
<rect x="661" y="167" width="1" height="8" fill="#0e9981"/>
<rect x="660" y="167" width="3" height="8" fill="#0e9981"/>
<rect x="664" y="157" width="1" height="10" fill="#0e9981"/>
<rect x="663" y="160" width="3" height="7" fill="#0e9981"/>
<rect x="667" y="160" width="1" height="7" fill="#dc3f4f"/>
<rect x="666" y="160" width="2" height="7" fill="#dc3f4f"/>
<rect x="669" y="163" width="1" height="4" fill="#dc3f4f"/>
<rect x="668" y="163" width="3" height="4" fill="#dc3f4f"/>
<rect x="672" y="163" width="1" height="6" fill="#dc3f4f"/>
<rect x="671" y="163" width="3" height="6" fill="#dc3f4f"/>
<rect x="675" y="164" width="1" height="15" fill="#0e9981"/>
<rect x="674" y="164" width="3" height="5" fill="#0e9981"/>
<rect x="678" y="158" width="1" height="6" fill="#0e9981"/>
<rect x="677" y="158" width="3" height="6" fill="#0e9981"/>
<rect x="681" y="154" width="1" height="4" fill="#0e9981"/>
<rect x="680" y="154" width="2" height="4" fill="#0e9981"/>
<rect x="683" y="151" width="1" height="3" fill="#dc3f4f"/>
<rect x="682" y="153" width="3" height="1" fill="#dc3f4f"/>
<rect x="686" y="151" width="1" height="4" fill="#0e9981"/>
<rect x="685" y="151" width="3" height="4" fill="#0e9981"/>
<rect x="689" y="139" width="1" height="12" fill="#0e9981"/>
<rect x="688" y="144" width="3" height="7" fill="#0e9981"/>
<rect x="692" y="143" width="1" height="3" fill="#dc3f4f"/>
<rect x="691" y="144" width="3" height="2" fill="#dc3f4f"/>
<rect x="695" y="145" width="1" height="12" fill="#dc3f4f"/>
<rect x="694" y="145" width="3" height="12" fill="#dc3f4f"/>
<rect x="698" y="155" width="1" height="2" fill="#0e9981"/>
<rect x="697" y="155" width="3" height="2" fill="#0e9981"/>
<rect x="701" y="150" width="1" height="10" fill="#dc3f4f"/>
<rect x="700" y="155" width="2" height="1" fill="#dc3f4f"/>
<rect x="703" y="153" width="1" height="4" fill="#0e9981"/>
<rect x="702" y="153" width="3" height="4" fill="#0e9981"/>
<rect x="706" y="145" width="1" height="9" fill="#0e9981"/>
<rect x="705" y="147" width="3" height="7" fill="#0e9981"/>
<rect x="709" y="134" width="1" height="13" fill="#0e9981"/>
<rect x="708" y="136" width="2" height="11" fill="#0e9981"/>
<rect x="711" y="136" width="1" height="4" fill="#dc3f4f"/>
<rect x="710" y="136" width="3" height="4" fill="#dc3f4f"/>
<rect x="714" y="140" width="1" height="4" fill="#dc3f4f"/>
<rect x="713" y="140" width="3" height="4" fill="#dc3f4f"/>
<rect x="717" y="132" width="1" height="12" fill="#0e9981"/>
<rect x="716" y="132" width="3" height="12" fill="#0e9981"/>
<rect x="720" y="128" width="1" height="10" fill="#0e9981"/>
<rect x="719" y="128" width="3" height="4" fill="#0e9981"/>
<rect x="723" y="118" width="1" height="11" fill="#0e9981"/>
<rect x="722" y="118" width="3" height="11" fill="#0e9981"/>
<rect x="726" y="116" width="1" height="5" fill="#dc3f4f"/>
<rect x="725" y="118" width="2" height="3" fill="#dc3f4f"/>
<rect x="728" y="121" width="1" height="5" fill="#dc3f4f"/>
<rect x="727" y="121" width="3" height="5" fill="#dc3f4f"/>
<rect x="731" y="119" width="1" height="12" fill="#0e9981"/>
<rect x="730" y="119" width="3" height="7" fill="#0e9981"/>
<rect x="734" y="112" width="1" height="8" fill="#0e9981"/>
<rect x="733" y="112" width="3" height="8" fill="#0e9981"/>
<rect x="737" y="110" width="1" height="9" fill="#dc3f4f"/>
<rect x="736" y="112" width="2" height="7" fill="#dc3f4f"/>
<rect x="739" y="107" width="1" height="11" fill="#0e9981"/>
<rect x="738" y="107" width="3" height="11" fill="#0e9981"/>
<rect x="742" y="105" width="1" height="9" fill="#dc3f4f"/>
<rect x="741" y="107" width="3" height="7" fill="#dc3f4f"/>
<rect x="745" y="103" width="1" height="11" fill="#0e9981"/>
<rect x="744" y="103" width="3" height="11" fill="#0e9981"/>
<rect x="748" y="103" width="1" height="1" fill="#dc3f4f"/>
<rect x="747" y="103" width="2" height="1" fill="#dc3f4f"/>
<rect x="750" y="102" width="1" height="2" fill="#dc3f4f"/>
<rect x="749" y="103" width="3" height="1" fill="#dc3f4f"/>
<rect x="753" y="104" width="1" height="4" fill="#dc3f4f"/>
<rect x="752" y="104" width="3" height="4" fill="#dc3f4f"/>
<rect x="756" y="108" width="1" height="4" fill="#dc3f4f"/>
<rect x="755" y="108" width="3" height="4" fill="#dc3f4f"/>
<rect x="759" y="111" width="1" height="8" fill="#dc3f4f"/>
<rect x="758" y="112" width="3" height="7" fill="#dc3f4f"/>
<rect x="762" y="112" width="1" height="7" fill="#0e9981"/>
<rect x="761" y="115" width="3" height="4" fill="#0e9981"/>
<rect x="765" y="108" width="1" height="7" fill="#0e9981"/>
<rect x="764" y="114" width="2" height="1" fill="#0e9981"/>
<rect x="767" y="108" width="1" height="7" fill="#0e9981"/>
<rect x="766" y="110" width="3" height="5" fill="#0e9981"/>
<rect x="770" y="110" width="1" height="15" fill="#dc3f4f"/>
<rect x="769" y="110" width="3" height="15" fill="#dc3f4f"/>
<rect x="773" y="117" width="1" height="8" fill="#0e9981"/>
<rect x="772" y="119" width="2" height="6" fill="#0e9981"/>
<rect x="775" y="118" width="1" height="4" fill="#dc3f4f"/>
<rect x="774" y="119" width="3" height="3" fill="#dc3f4f"/>
<rect x="779" y="122" width="1" height="1" fill="#dc3f4f"/>
<rect x="778" y="122" width="2" height="1" fill="#dc3f4f"/>
<rect x="781" y="123" width="1" height="6" fill="#dc3f4f"/>
<rect x="780" y="123" width="3" height="6" fill="#dc3f4f"/>
<rect x="784" y="125" width="1" height="7" fill="#dc3f4f"/>
<rect x="783" y="128" width="3" height="4" fill="#dc3f4f"/>
<rect x="787" y="126" width="1" height="7" fill="#dc3f4f"/>
<rect x="786" y="132" width="3" height="1" fill="#dc3f4f"/>
<rect x="790" y="128" width="1" height="5" fill="#0e9981"/>
<rect x="789" y="128" width="2" height="5" fill="#0e9981"/>
<rect x="792" y="124" width="1" height="5" fill="#0e9981"/>
<rect x="791" y="124" width="3" height="5" fill="#0e9981"/>
<rect x="795" y="119" width="1" height="5" fill="#0e9981"/>
<rect x="794" y="119" width="3" height="5" fill="#0e9981"/>
<rect x="798" y="110" width="1" height="11" fill="#0e9981"/>
<rect x="797" y="117" width="3" height="4" fill="#0e9981"/>
<rect x="801" y="115" width="1" height="3" fill="#0e9981"/>
<rect x="800" y="116" width="2" height="2" fill="#0e9981"/>
<rect x="803" y="111" width="1" height="5" fill="#0e9981"/>
<rect x="802" y="112" width="3" height="4" fill="#0e9981"/>
<rect x="806" y="112" width="1" height="4" fill="#0e9981"/>
<rect x="805" y="112" width="2" height="1" fill="#0e9981"/>
<rect x="808" y="105" width="1" height="7" fill="#0e9981"/>
<rect x="807" y="107" width="3" height="5" fill="#0e9981"/>
<rect x="811" y="107" width="1" height="7" fill="#dc3f4f"/>
<rect x="810" y="107" width="3" height="7" fill="#dc3f4f"/>
<rect x="815" y="103" width="1" height="11" fill="#0e9981"/>
<rect x="814" y="105" width="2" height="9" fill="#0e9981"/>
<rect x="817" y="105" width="1" height="4" fill="#dc3f4f"/>
<rect x="816" y="105" width="3" height="4" fill="#dc3f4f"/>
<rect x="820" y="106" width="1" height="8" fill="#dc3f4f"/>
<rect x="819" y="109" width="3" height="4" fill="#dc3f4f"/>
<rect x="823" y="112" width="1" height="1" fill="#0e9981"/>
<rect x="822" y="112" width="3" height="1" fill="#0e9981"/>
<rect x="826" y="108" width="1" height="4" fill="#0e9981"/>
<rect x="825" y="110" width="3" height="2" fill="#0e9981"/>
<rect x="829" y="110" width="1" height="4" fill="#dc3f4f"/>
<rect x="828" y="110" width="3" height="1" fill="#dc3f4f"/>
<rect x="832" y="107" width="1" height="4" fill="#0e9981"/>
<rect x="831" y="110" width="2" height="1" fill="#0e9981"/>
<rect x="834" y="110" width="1" height="0" fill="#dc3f4f"/>
<rect x="833" y="110" width="3" height="1" fill="#dc3f4f"/>
<rect x="837" y="107" width="1" height="3" fill="#0e9981"/>
<rect x="836" y="108" width="3" height="2" fill="#0e9981"/>
<rect x="840" y="106" width="1" height="9" fill="#dc3f4f"/>
<rect x="839" y="108" width="3" height="6" fill="#dc3f4f"/>
<rect x="843" y="104" width="1" height="11" fill="#0e9981"/>
<rect x="842" y="104" width="3" height="10" fill="#0e9981"/>
<rect x="846" y="96" width="1" height="9" fill="#0e9981"/>
<rect x="845" y="96" width="2" height="9" fill="#0e9981"/>
<rect x="848" y="92" width="1" height="6" fill="#0e9981"/>
<rect x="847" y="93" width="3" height="5" fill="#0e9981"/>
<rect x="851" y="84" width="1" height="10" fill="#0e9981"/>
<rect x="850" y="85" width="3" height="9" fill="#0e9981"/>
<rect x="854" y="83" width="1" height="4" fill="#0e9981"/>
<rect x="853" y="84" width="3" height="1" fill="#0e9981"/>
</g>
<g>
<circle cx="854.6" cy="498.4" r="9.8" fill="#fff" stroke="#8e2ba8" stroke-width="1.7"/>
<path d="M858.4 492.6 L849.9 499.6 L854.2 499.6 L850.9 504.2 L859.3 497.2 L855.0 497.2 Z" fill="#8e2ba8"/>
<path d="M914.3 519.6 L922.5 519.6 L925.2 525.4 L922.5 531.2 L914.3 531.2 L911.6 525.4 Z" fill="none" stroke="#131722" stroke-width="1.4" stroke-linejoin="round"/>
<circle cx="918.2" cy="525.3" r="2.3" fill="none" stroke="#131722" stroke-width="1.5"/>
</g>
</svg>

<div class="pl" style="top:10.5px">66 000,00</div>
<div class="pl" style="top:47.5px">65 500,00</div>
<div class="pl" style="top:121.5px">64 500,00</div>
<div class="pl" style="top:159.5px">64 000,00</div>
<div class="pl" style="top:196.5px">63 500,00</div>
<div class="pl" style="top:233.5px">63 000,00</div>
<div class="pl" style="top:270.5px">62 500,00</div>
<div class="pl" style="top:307.5px">62 000,00</div>
<div class="pl" style="top:345.5px">61 500,00</div>
<div class="pl" style="top:382.5px">61 000,00</div>
<div class="pl" style="top:419.5px">60 500,00</div>
<div class="pl" style="top:456.5px">60 000,00</div>
<div class="pl" style="top:494.5px">59 500,00</div>
<div class="tl b" style="left:-27.3px">03:00</div>
<div class="tl" style="left:56.49px">03:30</div>
<div class="tl b" style="left:140.28px">04:00</div>
<div class="tl" style="left:224.07px">04:30</div>
<div class="tl b" style="left:307.86px">05:00</div>
<div class="tl" style="left:391.65px">05:30</div>
<div class="tl" style="left:475.44px">06:00</div>
<div class="tl" style="left:559.23px">06:30</div>
<div class="tl" style="left:643.02px">07:00</div>
<div class="tl" style="left:726.81px">07:30</div>
<div class="tl" style="left:810.6px">08:00</div>
<div class="btn" style="left:9px;width:75px;border-color:#d8606b;"></div>
<div class="bv" style="left:9px;top:8.5px;color:#d23a4b">65 128,08</div>
<div class="bt" style="left:9px;top:23px;color:#c94d5a">ПРОДАТЬ</div>
<div class="zz" style="position:absolute;left:95px;top:15.5px;font-size:10px;line-height:14px;color:#131722">0,00</div>
<div class="btn" style="left:122px;width:75px;border-color:#4a7bd6;"></div>
<div class="bv" style="left:122px;top:8.5px;color:#2f63d3">65 128,08</div>
<div class="bt" style="left:122px;top:23px;color:#4673cc">КУПИТЬ</div>
<div class="cur"><div style="position:absolute;left:8px;top:1px;letter-spacing:-0.45px">65 120,31</div><div style="position:absolute;left:8px;top:15px;letter-spacing:-0.2px">00:19</div></div>

<svg width="953" height="543" style="position:absolute;left:0;top:0"><defs><mask id="wmm" maskUnits="userSpaceOnUse" x="0" y="0" width="953" height="543"><rect x="0" y="0" width="953" height="543" fill="#fff"/><text x="485.5" y="534.2" font-family="Liberation Sans" font-size="29.8px" fill="#000">Авторские права © Pocket Option</text></mask><filter id="wmb" x="-5%" y="-50%" width="110%" height="200%"><feGaussianBlur stdDeviation="0.55"/></filter></defs><g transform="translate(0 534.2) scale(1 0.9) translate(0 -534.2)"><text x="485.5" y="534.2" font-family="Liberation Sans" font-size="29.8px" fill="rgba(255,255,255,0.12)">Авторские права © Pocket Option</text><g mask="url(#wmm)"><text x="485.5" y="534.2" font-family="Liberation Sans" font-size="29.8px" fill="none" stroke="#747474" stroke-width="3.4" stroke-linejoin="round" filter="url(#wmb)" opacity="0.9">Авторские права © Pocket Option</text></g></g></svg>
</body></html>
